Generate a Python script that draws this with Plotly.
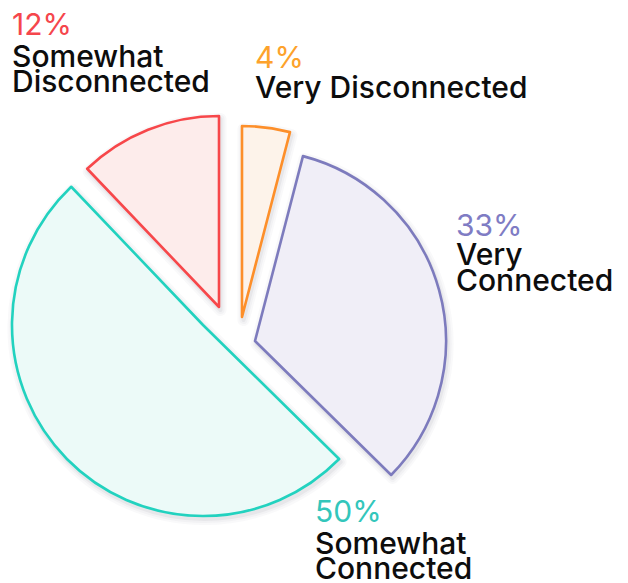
import plotly.graph_objects as go

# Survey shares, listed clockwise from 12 o'clock
labels = ["Very Disconnected", "Very Connected", "Somewhat Connected", "Somewhat Disconnected"]
values = [4, 33, 50, 12]
label_lines = [["Very Disconnected"], ["Very", "Connected"], ["Somewhat", "Connected"], ["Somewhat", "Disconnected"]]

W, H = 628, 583
RADIUS = 191

# Per-slice styling
line_colors = ["#fd8f2a", "#7d7bbd", "#22d2bf", "#f7474a"]
fill_colors = ["#fdf3ea", "#f0eef7", "#ecfaf8", "#fdeceb"]
pct_colors = ["#fda22b", "#7f7cc4", "#33c6bb", "#f5464c"]

# Exploded placement: centre of each slice's wedge in pixels
slice_centre_px = [(242, 317), (255, 341), (203, 325), (219, 307)]

# Label placement: left edge and vertical centres of each text line (pixels)
label_left_px = [256, 457, 316, 13]
pct_mid_px = [57, 225, 511, 24]
line_mid_px = [[87], [254, 280], [543, 568], [56, 81]]

TRANSPARENT = "rgba(0,0,0,0)"


def domain_for(cx, cy, dx=0.0, dy=0.0):
    cx, cy = cx + dx, cy + dy
    return dict(
        x=[(cx - RADIUS) / W, (cx + RADIUS) / W],
        y=[1 - (cy + RADIUS) / H, 1 - (cy - RADIUS) / H],
    )


def one_slice(idx, fill, line, width, dom):
    n = len(values)
    return go.Pie(
        labels=labels,
        values=values,
        sort=False,
        direction="clockwise",
        rotation=0,
        textinfo="none",
        hoverinfo="skip",
        showlegend=False,
        domain=dom,
        marker=dict(
            colors=[fill if i == idx else TRANSPARENT for i in range(n)],
            line=dict(
                color=[line if i == idx else TRANSPARENT for i in range(n)],
                width=[width if i == idx else 0 for i in range(n)],
            ),
        ),
    )


fig = go.Figure()

# Soft drop shadows under every slice
shadow_layers = [(12, "rgba(70,70,90,0.03)"), (8, "rgba(70,70,90,0.04)"), (4, "rgba(70,70,90,0.06)")]
for i, (cx, cy) in enumerate(slice_centre_px):
    for w, col in shadow_layers:
        fig.add_trace(one_slice(i, TRANSPARENT, col, w, domain_for(cx, cy, 1.5, 3)))

# The slices themselves
for i, (cx, cy) in enumerate(slice_centre_px):
    fig.add_trace(one_slice(i, fill_colors[i], line_colors[i], 2.6, domain_for(cx, cy)))

FONT = "Inter"
SIZE = 30
annotations = []
for i, v in enumerate(values):
    x = (label_left_px[i] - 3) / W
    annotations.append(dict(
        text=f"{v}%", x=x, y=1 - pct_mid_px[i] / H, xref="paper", yref="paper",
        xanchor="left", yanchor="middle", showarrow=False,
        font=dict(family=FONT, size=SIZE, color=pct_colors[i], weight=400),
    ))
    for line, mid in zip(label_lines[i], line_mid_px[i]):
        annotations.append(dict(
            text=line, x=x, y=1 - mid / H, xref="paper", yref="paper",
            xanchor="left", yanchor="middle", showarrow=False,
            font=dict(family=FONT, size=SIZE, color="#0d0d0d", weight=500),
        ))

fig.update_layout(
    width=W, height=H,
    margin=dict(l=0, r=0, t=0, b=0),
    paper_bgcolor="white", plot_bgcolor="white",
    annotations=annotations,
)

fig.write_html("out.html")
